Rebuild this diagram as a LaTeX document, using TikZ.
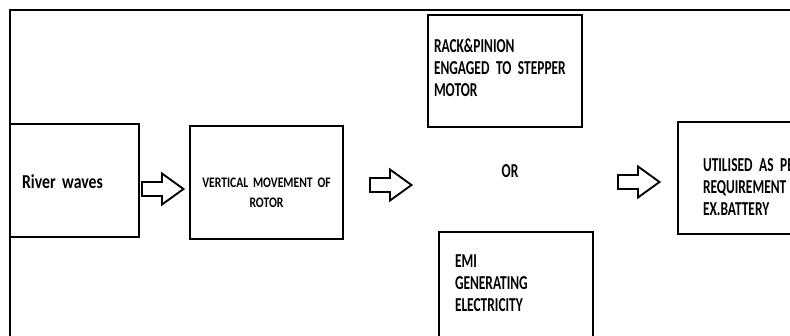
\documentclass[tikz,border=0pt]{standalone}
\usepackage{fontspec}
\setmainfont{Carlito}[FakeStretch=0.68]
\newfontfamily\widefont{Carlito}[FakeStretch=0.8]
\DeclareRobustCommand\tightsp[1]{\spaceskip #1\relax}

\begin{document}
\begin{tikzpicture}[
            x = 0.75pt, y = -0.75pt,
            every node/.style = {font = \bfseries\fontsize{14.8}{16.5}\selectfont\tightsp{2.4pt}},
            block/.style = {draw, line width = 1.5pt, outer sep = 0pt, anchor = north west, inner ysep = 0pt, align = left},
            flow/.style = {draw, line width = 1.4pt, line join = miter}
        ]
        \useasboundingbox (0,0) rectangle (790,336);
        \clip (0,0) rectangle (790,336);
        \draw[line width = 1.1pt] (10,10) rectangle (800,350);
        \node[block, font = \widefont\bfseries\fontsize{14.8}{16.5}\selectfont\tightsp{2.8pt}, text width = 78.75pt, inner xsep = 9pt, text height = 48pt, text depth = 36.75pt] (river) at (10,124) {River waves};
        \node[block, align = center, font = \widefont\bfseries\fontsize{10.9}{15}\selectfont\tightsp{2pt}, text width = 102.75pt, inner xsep = 6pt, text height = 45.75pt, text depth = 39pt] (rotor) at (190,126) {VERTICAL MOVEMENT OF\\ROTOR};
        \node[block, text width = 106.5pt, inner xsep = 4.5pt, text height = 27.75pt, text depth = 56.25pt] (rack) at (428,15) {RACK\&PINION\\ENGAGED TO STEPPER\\MOTOR};
        \node (or) at (510,171) {OR};
        \node[block, text width = 91.5pt, inner xsep = 12pt, text height = 26.25pt, text depth = 58.5pt] (emi) at (439,232) {EMI\\GENERATING\\ELECTRICITY};
        \node[block, text width = 78.75pt, inner xsep = 18.75pt, text height = 36.75pt, text depth = 47.25pt] (use) at (678,122) {UTILISED AS PER\\REQUIREMENT\\EX.BATTERY};
        % hollow block arrows between the stages
        \coordinate (arr1) at (142,189);
        \coordinate (arr2) at (370,185);
        \coordinate (arr3) at (618,182);
        \foreach \a in {arr1, arr2, arr3}
            \draw[flow] (\a) ++(0,-7) -- ++(20,0) -- ++(0,-8.5) -- ++(21.5,15.5) -- ++(-21.5,15.5) -- ++(0,-8.5) -- ++(-20,0) -- cycle;
    \end{tikzpicture}
\end{document}
